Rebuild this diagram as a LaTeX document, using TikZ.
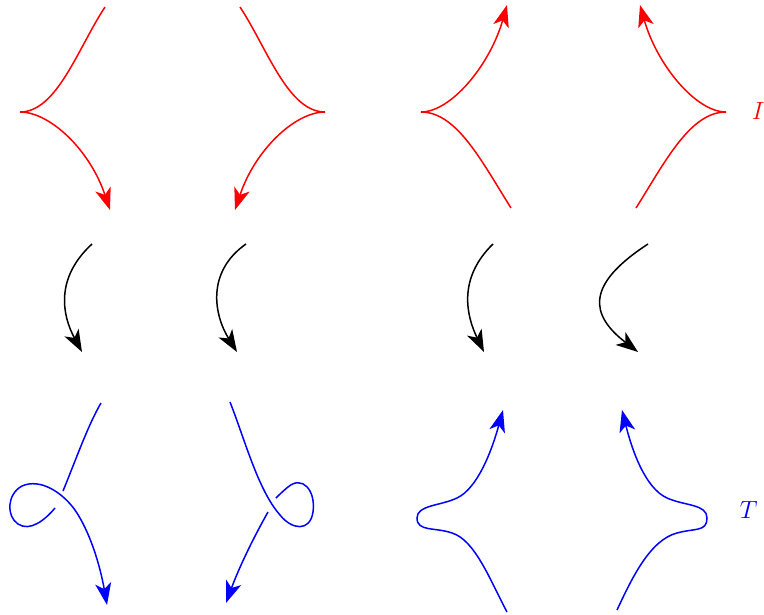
\documentclass[tikz,border=0pt]{standalone}
\usetikzlibrary{arrows.meta}
\begin{document}
\begin{tikzpicture}[x=1pt,y=-1pt,line width=1.5pt,
  tip/.style={-{Stealth[length=22pt,width=16pt,inset=6pt]}},
  lab/.style={inner sep=0pt,anchor=base west,font=\fontsize{31}{37}\selectfont}]
\useasboundingbox (0,0) rectangle (764,614);
% ---------- red row ----------
\begin{scope}[red]
\coordinate (r1t) at (105,7); \coordinate (r1c) at (20,112); \coordinate (r1b) at (110,210);
\draw (r1t) .. controls (78,48) and (57,112) .. (r1c);
\draw[tip] (r1c) .. controls (50,112) and (90,150) .. (r1b);
\coordinate (r2t) at (240,7); \coordinate (r2c) at (325,112); \coordinate (r2b) at (235,210);
\draw (r2t) .. controls (267,48) and (288,112) .. (r2c);
\draw[tip] (r2c) .. controls (295,112) and (255,150) .. (r2b);
\coordinate (r3t) at (507,5); \coordinate (r3c) at (421,112); \coordinate (r3b) at (511,208);
\draw[tip] (r3c) .. controls (451,112) and (490,65) .. (r3t);
\draw (r3c) .. controls (457,112) and (482,162) .. (r3b);
\coordinate (r4t) at (640,5); \coordinate (r4c) at (726,112); \coordinate (r4b) at (636,208);
\draw[tip] (r4c) .. controls (696,112) and (657,65) .. (r4t);
\draw (r4c) .. controls (690,112) and (665,162) .. (r4b);
\node[lab] (I) at (751,119) {$I$};
\end{scope}
% ---------- black arrows ----------
\coordinate (k1a) at (92,244);  \coordinate (k1b) at (82,352);
\coordinate (k2a) at (246,244); \coordinate (k2b) at (237,352);
\coordinate (k3a) at (493,244); \coordinate (k3b) at (484,352);
\coordinate (k4a) at (648,244); \coordinate (k4b) at (638,352);
\draw[tip] (k1a) .. controls (55,278) and (62,315) .. (k1b);
\draw[tip] (k2a) .. controls (206,272) and (214,315) .. (k2b);
\draw[tip] (k3a) .. controls (458,278) and (466,315) .. (k3b);
\draw[tip] (k4a) .. controls (585,285) and (590,315) .. (k4b);
% ---------- blue row ----------
\begin{scope}[blue]
% panel 1
\coordinate (b1t) at (101,403); \coordinate (b1u) at (63,491);
\coordinate (b1v) at (55,508); \coordinate (b1b) at (107,605);
\draw (b1t) .. controls (88,425) and (75,462) .. (b1u);
\draw[tip] (b1v) .. controls (45,520) and (30,532) .. (18,524)
  .. controls (6,516) and (7,494) .. (22,486)
  .. controls (40,478) and (62,492) .. (75,510)
  .. controls (90,532) and (100,565) .. (b1b);
% panel 2
\coordinate (b2t) at (230,402); \coordinate (b2u) at (276,498);
\coordinate (b2v) at (268,512); \coordinate (b2b) at (226,603);
\draw (b2t) .. controls (245,440) and (258,490) .. (280,515)
  .. controls (292,530) and (310,532) .. (313,512)
  .. controls (316,490) and (302,475) .. (288,487)
  .. controls (283,491) and (279,495) .. (b2u);
\draw[tip] (b2v) .. controls (255,535) and (240,565) .. (b2b);
% panel 3
\coordinate (b3b) at (507,612); \coordinate (b3t) at (503,410);
\draw[tip] (b3b) .. controls (490,580) and (475,540) .. (452,533)
  .. controls (435,527) and (417,532) .. (417,518)
  .. controls (417,505) and (440,506) .. (457,498)
  .. controls (478,488) and (492,450) .. (b3t);
% panel 4
\coordinate (b4b) at (617,610); \coordinate (b4t) at (622,410);
\draw[tip] (b4b) .. controls (632,578) and (650,540) .. (677,533)
  .. controls (695,528) and (707,532) .. (707,518)
  .. controls (707,504) and (685,506) .. (667,498)
  .. controls (645,488) and (632,450) .. (b4t);
\node[lab] (T) at (739,518) {$T$};
\end{scope}
\end{tikzpicture}
\end{document}
